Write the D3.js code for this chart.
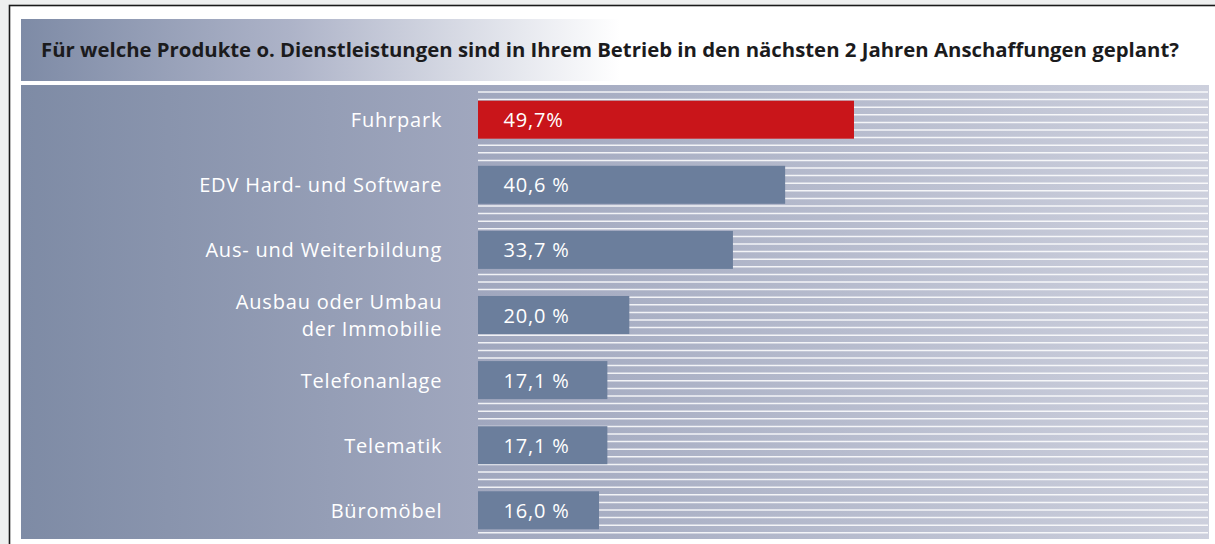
<!DOCTYPE html>
<html>
<head>
<meta charset="utf-8">
<script src="https://cdn.jsdelivr.net/npm/d3@7"></script>
<style>
  html, body { margin: 0; padding: 0; background: #eeefef; }
  svg { display: block; }
  text { font-family: "Open Sans", "Noto Sans", sans-serif; }
</style>
</head>
<body>
<div id="vis"></div>
<script>
// data
var categories = [
	["Fuhrpark"],
	["EDV Hard- und Software"],
	["Aus- und Weiterbildung"],
	["Ausbau oder Umbau", "der Immobilie"],
	["Telefonanlage"],
	["Telematik"],
	["Büromöbel"]
];
var values = [49.7, 40.6, 33.7, 20.0, 17.1, 17.1, 16.0];
var valueLabels = ["49,7%", "40,6 %", "33,7 %", "20,0 %", "17,1 %", "17,1 %", "16,0 %"];
var highlight = [true, false, false, false, false, false, false];
var title = "Für welche Produkte o. Dienstleistungen sind in Ihrem Betrieb in den nächsten 2 Jahren Anschaffungen geplant?";

var width = 1215;
var height = 544;

var panel = { left: 21, top: 85, right: 1209, bottom: 539 };
var titleBox = { left: 21, top: 19, right: 1209, bottom: 81 };

var x = d3.scaleLinear()
	.domain([0, 100])
	.range([478, 1234.5]);

var y = d3.scaleBand()
	.domain(d3.range(categories.length))
	.range([100.7, 529.3])
	.paddingInner(0.416)
	.paddingOuter(0);

var svg = d3.select('#vis').append('svg')
	.attr('width', width)
	.attr('height', height);

var defs = svg.append('defs');

var gTitle = defs.append('linearGradient')
	.attr('id', 'gradTitle')
	.attr('gradientUnits', 'userSpaceOnUse')
	.attr('x1', titleBox.left).attr('x2', 620)
	.attr('y1', 0).attr('y2', 0);
gTitle.append('stop').attr('offset', 0).attr('stop-color', '#7e8ba6');
gTitle.append('stop').attr('offset', 0.45).attr('stop-color', '#adb3c8');
gTitle.append('stop').attr('offset', 1).attr('stop-color', '#ffffff');

var gPanel = defs.append('linearGradient')
	.attr('id', 'gradPanel')
	.attr('gradientUnits', 'userSpaceOnUse')
	.attr('x1', panel.left).attr('x2', panel.right)
	.attr('y1', 0).attr('y2', 0);
gPanel.append('stop').attr('offset', 0).attr('stop-color', '#7e8ba5');
gPanel.append('stop').attr('offset', 0.385).attr('stop-color', '#a0a7be');
gPanel.append('stop').attr('offset', 1).attr('stop-color', '#cdd0dd');

// frame
svg.append('rect')
	.attr('x', 9.5).attr('y', 5.5)
	.attr('width', width + 20).attr('height', height + 20)
	.attr('fill', '#ffffff')
	.attr('stroke', '#1a1a1a')
	.attr('stroke-width', 1.6);

// title band
svg.append('rect')
	.attr('x', titleBox.left).attr('y', titleBox.top)
	.attr('width', titleBox.right - titleBox.left)
	.attr('height', titleBox.bottom - titleBox.top)
	.attr('fill', 'url(#gradTitle)');

svg.append('text')
	.attr('x', 41)
	.attr('y', 57.3)
	.attr('fill', '#1b1b1d')
	.attr('font-weight', 'bold')
	.attr('font-size', 19)
	.attr('textLength', 1138)
	.attr('lengthAdjust', 'spacingAndGlyphs')
	.text(title);

// chart panel
svg.append('rect')
	.attr('x', panel.left).attr('y', panel.top)
	.attr('width', panel.right - panel.left)
	.attr('height', panel.bottom - panel.top)
	.attr('fill', 'url(#gradPanel)');

// horizontal white stripes behind the bars
var stripes = d3.range(92, 533, 7.6);
svg.append('g')
	.selectAll('line')
	.data(stripes)
	.enter().append('line')
	.attr('x1', x(0))
	.attr('x2', 1208)
	.attr('y1', function (d) { return d; })
	.attr('y2', function (d) { return d; })
	.attr('stroke', '#ffffff')
	.attr('stroke-opacity', 0.85)
	.attr('stroke-width', 1.5);

var g = svg.append('g');

g.selectAll('.bar')
	.data(values)
	.enter().append('rect')
	.attr('class', 'bar')
	.attr('x', x(0))
	.attr('y', function (d, i) { return y(i); })
	.attr('width', function (d) { return x(d) - x(0); })
	.attr('height', y.bandwidth())
	.attr('fill', function (d, i) { return highlight[i] ? '#c9151a' : '#6b7e9c'; });

g.selectAll('.val')
	.data(valueLabels)
	.enter().append('text')
	.attr('class', 'val')
	.attr('x', x(0) + 25.5)
	.attr('y', function (d, i) { return y(i) + y.bandwidth() / 2 + 7.5; })
	.attr('fill', '#ffffff')
	.attr('font-size', 20)
	.attr('letter-spacing', 0.8)
	.text(function (d) { return d; });

// category labels
var lineH = 26.5;
g.selectAll('.cat')
	.data(categories)
	.enter().append('text')
	.attr('class', 'cat')
	.attr('text-anchor', 'end')
	.attr('fill', '#ffffff')
	.attr('font-size', 20)
	.attr('letter-spacing', 0.8)
	.each(function (d, i) {
		var t = d3.select(this);
		var cy = y(i) + y.bandwidth() / 2 + 7.5 - (d.length - 1) * lineH / 2;
		d.forEach(function (line, k) {
			t.append('tspan')
				.attr('x', 442.3)
				.attr('y', cy + k * lineH)
				.text(line);
		});
	});
</script>
</body>
</html>
